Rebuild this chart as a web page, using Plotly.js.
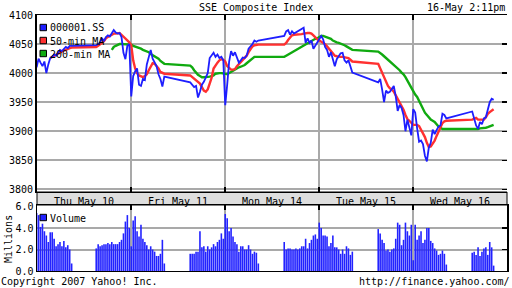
<!DOCTYPE html>
<html>
<head>
<meta charset="utf-8">
<script src="https://cdn.plot.ly/plotly-3.0.1.min.js"></script>
<style>html,body{margin:0;padding:0;background:#fff;}#chart{width:512px;height:288px;}</style>
</head>
<body>
<div id="chart"></div>
<script>
// ---------------- data ----------------
const dayLabels = ['Thu May 10', 'Fri May 11', 'Mon May 14', 'Tue May 15', 'Wed May 16'];
const dayBoundaries = [1, 2, 3, 4];
// trading sessions (time in chart-day units, first bar of each session) and bar counts
const sessionStart = [-0.004, 0.63, 1.63, 2.63, 3.63, 4.63];
const sessionLen = [19, 36, 36, 36, 36, 12];
const barStep = 0.0207;

const price = [
  4010, 4025, 4018, 4012, 4020, 4000, 4015, 4026, 4028, 4032, 4030, 4036, 4040, 4038, 4042, 4045, 4043, 4047, 4047,
  4048, 4050, 4053, 4060, 4055, 4062, 4065, 4063, 4068, 4074, 4070, 4068, 4069, 4062, 4035, 4024, 4047, 4050, 3960, 3995,
  4003, 4008, 3980, 3978, 3990, 3988, 4015, 4028, 4040, 4025, 4018, 4012, 3998, 3990, 3977, 3994,
  3984, 3980, 3976, 3978, 3958, 3968, 3980, 3985, 3992, 4000, 4026, 4030, 4035, 4028, 4032, 4026, 4028, 4022, 3945, 3980,
  4020, 4038, 4030, 4036, 4026, 4018, 4022, 4027, 4026, 4030, 4042, 4046, 4050, 4056, 4054, 4056,
  4064, 4072, 4074, 4066, 4072, 4068, 4070, 4073, 4075, 4076, 4078, 4052, 4060, 4052, 4056, 4042, 4048, 4052, 4060, 4064,
  4058, 4045, 4040, 4028, 4036, 4022, 4012, 4024, 4030, 4034, 4035, 4022, 4018, 4022, 4012, 4001,
  3984, 3990, 3972, 3950, 3970, 3966, 3968, 3974, 3978, 3960, 3935, 3945, 3940, 3928, 3900, 3920, 3905, 3893, 3938, 3932,
  3905, 3882, 3884, 3878, 3858, 3848, 3872, 3880, 3903, 3895, 3902, 3908, 3910, 3930, 3928, 3922,
  3934, 3920, 3910, 3904, 3916, 3912, 3922, 3924, 3936, 3950, 3956, 3954
];
const ma50 = [
  null, null, null, null, null, null, null, 4026, 4028, 4030, 4032, 4034, 4036, 4037, 4039, 4040, 4042, 4043, 4044,
  4045, 4047, 4049, 4052, 4055, 4060, 4062, 4064, 4066, 4068, 4068, 4069, 4069, 4066, 4063, 4060, 4056, 4053, 4048, 4022,
  4008, 4000, 3996, 3994, 3993, 3995, 3998, 4005, 4012, 4017, 4016, 4012, 4008, 4002, 4000, 3999,
  3996, 3993, 3990, 3988, 3984, 3982, 3976, 3970, 3968, 3972, 3982, 3992, 4008, 4014, 4018, 4022, 4024, 4023, 4020, 4012,
  4008, 4006, 4006, 4007, 4012, 4016, 4020, 4024, 4027, 4030, 4036, 4042, 4046, 4048, 4049, 4049,
  4049, 4052, 4057, 4062, 4065, 4066, 4066, 4066, 4066, 4067, 4068, 4069, 4069, 4069, 4068, 4065, 4061, 4058, 4056, 4054,
  4052, 4050, 4046, 4042, 4040, 4035, 4030, 4029, 4028, 4028, 4028, 4027, 4027, 4026, 4023, 4020,
  4016, 4008, 4000, 3993, 3984, 3978, 3974, 3972, 3968, 3962, 3956, 3948, 3942, 3937, 3928, 3921, 3918, 3915, 3911, 3911,
  3911, 3909, 3903, 3896, 3890, 3880, 3873, 3874, 3878, 3884, 3892, 3900, 3906, 3914, 3917, 3918,
  3920, 3922, 3923, 3920, 3920, 3920, 3920, 3924, 3930, 3933, 3935, 3938
];
const ma200 = [
  null, null, null, null, null, null, null, null, null, null, null, null, null, null, null, null, null, null, null,
  null, null, null, null, null, null, null, null, 4040, 4045, 4047, 4049, 4050, 4050, 4050, 4050, 4050, 4050, 4049, 4047,
  4046, 4044, 4043, 4042, 4040, 4039, 4037, 4036, 4033, 4031, 4029, 4027, 4025, 4021, 4018, 4016,
  4013, 4010, 4005, 4001, 3997, 3995, 3993, 3993, 3993, 3994, 3994, 3995, 3996, 3999, 4000, 4000, 4000, 4000, 3999, 3998,
  4000, 4002, 4004, 4007, 4009, 4010, 4011, 4012, 4014, 4017, 4020, 4023, 4026, 4028, 4028, 4028,
  4028, 4030, 4032, 4034, 4036, 4038, 4040, 4042, 4043, 4045, 4047, 4049, 4051, 4053, 4055, 4057, 4059, 4060, 4062, 4064,
  4064, 4063, 4062, 4061, 4059, 4056, 4054, 4053, 4052, 4051, 4050, 4048, 4046, 4044, 4042, 4040,
  4037, 4035, 4032, 4029, 4026, 4023, 4020, 4017, 4014, 4011, 4009, 4005, 4001, 3998, 3993, 3988, 3981, 3975, 3968, 3963,
  3959, 3952, 3945, 3938, 3932, 3928, 3923, 3920, 3918, 3916, 3912, 3908, 3906, 3904, 3904, 3904,
  3904, 3903, 3904, 3904, 3905, 3905, 3905, 3906, 3907, 3908, 3909, 3911
];
const volume = [
  5.4, 5.2, 4.1, 4.4, 3.7, 3.3, 2.7, 3.6, 3.6, 3.0, 2.3, 2.5, 2.7, 2.3, 2.8, 2.2, 2.4, 2.0, 0.7,
  2.1, 2.5, 2.3, 2.4, 2.5, 2.5, 2.6, 2.5, 2.7, 2.5, 2.5, 2.5, 2.7, 2.9, 3.5, 4.6, 5.2, 4.0, 2.3, 4.7,
  5.1, 3.7, 3.2, 4.3, 3.0, 2.7, 2.4, 2.0, 2.3, 2.0, 1.8, 1.4, 1.4, 1.6, 2.9, 0.7,
  1.6, 1.6, 1.6, 1.8, 1.8, 3.7, 2.2, 2.3, 1.8, 2.3, 2.0, 2.2, 2.5, 2.3, 2.7, 2.9, 3.5, 3.0, 5.3, 4.9,
  3.7, 4.0, 3.2, 2.7, 2.5, 1.8, 2.3, 2.3, 2.0, 2.0, 2.4, 2.0, 1.6, 1.8, 1.7, 0.7,
  2.7, 2.0, 2.1, 2.1, 2.0, 2.0, 2.1, 2.0, 2.1, 2.3, 2.3, 3.0, 2.1, 2.6, 2.9, 3.3, 3.4, 3.0, 4.5, 4.0,
  3.3, 3.3, 3.2, 2.3, 2.6, 3.3, 2.2, 2.2, 2.0, 1.6, 2.0, 1.6, 2.3, 2.1, 1.5, 1.8,
  3.9, 3.5, 2.9, 2.6, 1.9, 2.0, 1.8, 2.0, 2.1, 3.0, 4.5, 4.3, 2.4, 2.9, 4.5, 3.7, 3.3, 4.3, 1.0, 4.3,
  2.9, 3.3, 3.7, 2.6, 2.9, 4.0, 4.0, 2.8, 2.6, 2.1, 1.9, 1.5, 1.6, 1.9, 1.6, 0.6,
  1.7, 1.8, 1.5, 2.2, 1.4, 1.8, 2.1, 2.2, 1.5, 2.7, 2.2, 0.5
];
const priceTicks = [3800, 3850, 3900, 3950, 4000, 4050, 4100];
const volumeTicks = [0, 2, 4, 6];
const volumeTickText = ['0.0', '2.0', '4.0', '6.0'];

// ---------------- build time axis ----------------
const t = [];
sessionLen.forEach((n, i) => { for (let k = 0; k < n; k++) t.push(sessionStart[i] + k * barStep); });

// ---------------- chart ----------------
const W = 512, H = 288;
const px = v => v / W, py = v => 1 - v / H;
const FONT = 'DejaVu Sans Mono, monospace';
const GRID = '#a9a9a9';
const BLUE = '#1e1eff', RED = '#ff3030', GREEN = '#10aa10';

const traces = [
  {type: 'bar', x: t, y: volume, xaxis: 'x2', yaxis: 'y2', width: barStep * 0.82,
   marker: {color: '#2222ff', line: {width: 0}}, hoverinfo: 'skip'},
  {type: 'scatter', mode: 'lines', x: t, y: ma200, line: {color: GREEN, width: 2.4}, connectgaps: false},
  {type: 'scatter', mode: 'lines', x: t, y: ma50, line: {color: RED, width: 2.4}, connectgaps: false},
  {type: 'scatter', mode: 'lines', x: t, y: price, line: {color: BLUE, width: 1.8}},
  {type: 'scatter', x: [null], y: [null], yaxis: 'y3', hoverinfo: 'skip'},
  {type: 'scatter', x: [null], y: [null], xaxis: 'x2', yaxis: 'y4', hoverinfo: 'skip'}
];

const minorX = {tickmode: 'array', tickvals: dayBoundaries, ticks: 'inside', ticklen: 5, tickwidth: 1.5,
  tickcolor: '#000', showgrid: true, gridcolor: GRID, gridwidth: 2};

const legendRows = [
  {name: '000001.SS', color: BLUE, y: 27.5},
  {name: '50-min MA', color: RED, y: 40.5},
  {name: '200-min MA', color: GREEN, y: 53.5},
  {name: 'Volume', color: '#2222ff', y: 217.5}
];

const shapes = [
  {type: 'rect', xref: 'paper', yref: 'paper', x0: px(37), x1: px(507), y0: py(205), y1: py(192),
   fillcolor: '#dedede', line: {color: '#000', width: 1}, layer: 'below'}
];
const annotations = [
  {text: 'SSE Composite Index', x: px(256), y: py(7), xanchor: 'center'},
  {text: '16-May 2:11pm', x: px(507), y: py(7), xanchor: 'right'},
  {text: 'Copyright 2007 Yahoo! Inc.', x: px(-1), y: py(281), xanchor: 'left'},
  {text: 'http://finance.yahoo.com/', x: px(512), y: py(281), xanchor: 'right'},
  {text: 'Millions', x: px(8), y: py(239), xanchor: 'center', textangle: -90}
];
legendRows.forEach(r => {
  shapes.push({type: 'rect', xref: 'paper', yref: 'paper', x0: px(40), x1: px(46.5), y0: py(r.y + 3.2), y1: py(r.y - 3.2),
    fillcolor: r.color, line: {color: '#000', width: 1}, layer: 'above'});
  annotations.push({text: r.name, x: px(48), y: py(r.y + 0.5), xanchor: 'left'});
});
annotations.forEach(a => Object.assign(a, {xref: 'paper', yref: 'paper', yanchor: 'middle', showarrow: false,
  font: {family: FONT, size: 10, color: '#000'}}));

const layout = {
  width: W, height: H, margin: {l: 0, r: 0, t: 0, b: 0},
  paper_bgcolor: '#fff', plot_bgcolor: '#fff', showlegend: false,
  font: {family: FONT, size: 10, color: '#000'},
  xaxis: {domain: [px(37), px(507)], range: [0, 5], anchor: 'y', tickmode: 'array',
    tickvals: [0.5, 1.5, 2.5, 3.5, 4.5], ticktext: dayLabels, ticks: '', showgrid: false, zeroline: false,
    showline: true, linecolor: '#000', linewidth: 1, mirror: 'ticks', minor: minorX,
    tickfont: {family: FONT, size: 10, color: '#000'}, automargin: false, fixedrange: true},
  yaxis: {domain: [py(192), py(15)], range: [3795.5, 4100], anchor: 'x', tickmode: 'array', tickvals: priceTicks,
    ticks: '', showgrid: true, gridcolor: GRID, gridwidth: 2, zeroline: false, showline: true,
    linecolor: '#000', linewidth: 2, tickfont: {family: FONT, size: 10, color: '#000'},
    automargin: false, fixedrange: true},
  yaxis3: {overlaying: 'y', side: 'right', anchor: 'x', range: [3795.5, 4100], tickmode: 'array',
    tickvals: priceTicks, ticks: 'inside', ticklen: 5, tickwidth: 1.5, tickcolor: '#000',
    showticklabels: false, showgrid: false, zeroline: false, showline: false, fixedrange: true},
  xaxis2: {domain: [px(37), px(507)], range: [0, 5], anchor: 'y2', side: 'top', tickmode: 'array',
    tickvals: [0.5, 1.5, 2.5, 3.5, 4.5], showticklabels: false, ticks: '', showgrid: false, zeroline: false,
    showline: true, linecolor: '#000', linewidth: 1, mirror: true, minor: minorX, fixedrange: true},
  yaxis2: {domain: [py(271), py(205)], range: [0, 6.14], anchor: 'x2', tickmode: 'array',
    tickvals: volumeTicks, ticktext: volumeTickText, ticks: '', showgrid: false, zeroline: false,
    minor: {tickmode: 'array', tickvals: [2, 4], showgrid: true, gridcolor: GRID, gridwidth: 2, ticks: ''},
    showline: true, mirror: true, linecolor: '#000', linewidth: 1.5,
    tickfont: {family: FONT, size: 10, color: '#000'}, automargin: false, fixedrange: true},
  yaxis4: {overlaying: 'y2', side: 'right', anchor: 'x2', range: [0, 6.14], tickmode: 'array', tickvals: [2, 4],
    ticks: 'inside', ticklen: 5, tickwidth: 1.5, tickcolor: '#000', showticklabels: false,
    showgrid: false, zeroline: false, showline: false, fixedrange: true},
  bargap: 0.1,
  shapes: shapes,
  annotations: annotations
};

Plotly.newPlot('chart', traces, layout, {staticPlot: true, displayModeBar: false});
</script>
</body>
</html>
